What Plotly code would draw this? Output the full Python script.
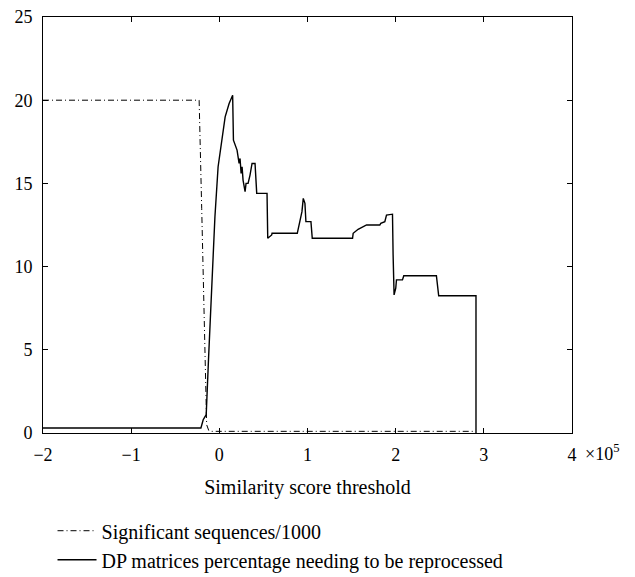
import plotly.graph_objects as go

# Similarity score threshold (x 1e5)
sig_x = [-2.0, -0.229, -0.20, -0.17, -0.144, -0.12, -0.09, 0.0, 1.0, 2.0, 2.90]
sig_y = [20.0, 20.0, 13.5, 6.5, 0.5, 0.15, 0.1, 0.1, 0.1, 0.1, 0.1]

dp_x = [-2.0, -0.209, -0.183, -0.149, -0.123, -0.093, -0.05, -0.014, 0.028, 0.066, 0.111, 0.151,
        0.160, 0.179, 0.201, 0.224, 0.235, 0.247, 0.258, 0.269, 0.292, 0.303, 0.326, 0.348, 0.371,
        0.405, 0.424, 0.541, 0.549, 0.594, 0.598, 0.884, 0.915, 0.937, 0.952, 0.971, 0.982, 1.039,
        1.054, 1.511, 1.518, 1.537, 1.574, 1.670, 1.820, 1.831, 1.877, 1.896, 1.964, 1.971, 1.982,
        2.001, 2.009, 2.077, 2.092, 2.462, 2.473, 2.488, 2.911, 2.911]
dp_y = [0.3, 0.3, 0.8, 1.1, 4.4, 8.0, 13.0, 16.0, 17.6, 19.0, 19.8, 20.3,
        17.6, 17.3, 17.0, 16.2, 16.5, 15.6, 16.0, 15.2, 14.5, 15.0, 15.0, 15.5, 16.2,
        16.2, 14.4, 14.4, 11.7, 11.9, 12.0, 12.0, 12.8, 13.3, 14.1, 13.8, 12.7, 12.7,
        11.7, 11.7, 12.0, 12.1, 12.24, 12.5, 12.5, 12.6, 12.7, 13.1, 13.15, 10.7, 8.3,
        8.7, 9.2, 9.2, 9.45, 9.45, 8.9, 8.25, 8.25, 0.0]

x_ticks = [-2, -1, 0, 1, 2, 3, 4]
x_tick_text = ["\u22122", "\u22121", "0", "1", "2", "3", "4"]
y_ticks = [0, 5, 10, 15, 20, 25]

font_family = "Liberation Serif"

fig = go.Figure()
fig.add_trace(go.Scatter(x=sig_x, y=sig_y, mode="lines", name="Significant sequences/1000",
                         line=dict(color="black", width=1, dash="6px,3px,1px,3px")))
fig.add_trace(go.Scatter(x=dp_x, y=dp_y, mode="lines", name="DP matrices percentage needing to be reprocessed",
                         line=dict(color="black", width=1.4)))

fig.update_layout(
    width=635, height=610,
    margin=dict(l=34.5, r=71, t=9, b=185),
    plot_bgcolor="white", paper_bgcolor="white",
    font=dict(family=font_family, size=20, color="black"),
    showlegend=True,
    legend=dict(x=0.018, y=-0.188, xanchor="left", yanchor="top", itemwidth=39,
                font=dict(family=font_family, size=20, color="black"),
                bgcolor="rgba(0,0,0,0)", tracegroupgap=0),
    xaxis=dict(range=[-2, 4], tickvals=x_ticks, ticktext=x_tick_text, automargin=False,
               showgrid=False, zeroline=False, showline=True, linecolor="black", linewidth=1,
               mirror="ticks", ticks="inside", ticklen=5, tickcolor="black",
               ticklabelstandoff=5, ticklabeloverflow="allow",
               tickfont=dict(family=font_family, size=18),
               title=dict(text="Similarity score threshold", font=dict(family=font_family, size=20),
                          standoff=16)),
    yaxis=dict(range=[0, 25], tickvals=y_ticks, automargin=False,
               showgrid=False, zeroline=False, showline=True, linecolor="black", linewidth=1,
               mirror="ticks", ticks="inside", ticklen=5, tickcolor="black",
               ticklabelstandoff=6, ticklabeloverflow="allow",
               tickfont=dict(family=font_family, size=18)),
)

fig.add_annotation(text="\u00d710<sup>5</sup>", xref="paper", yref="paper", x=1.021, y=-0.046,
                   xanchor="left", yanchor="middle", showarrow=False,
                   font=dict(family=font_family, size=18, color="black"))

fig.write_html("out.html")
